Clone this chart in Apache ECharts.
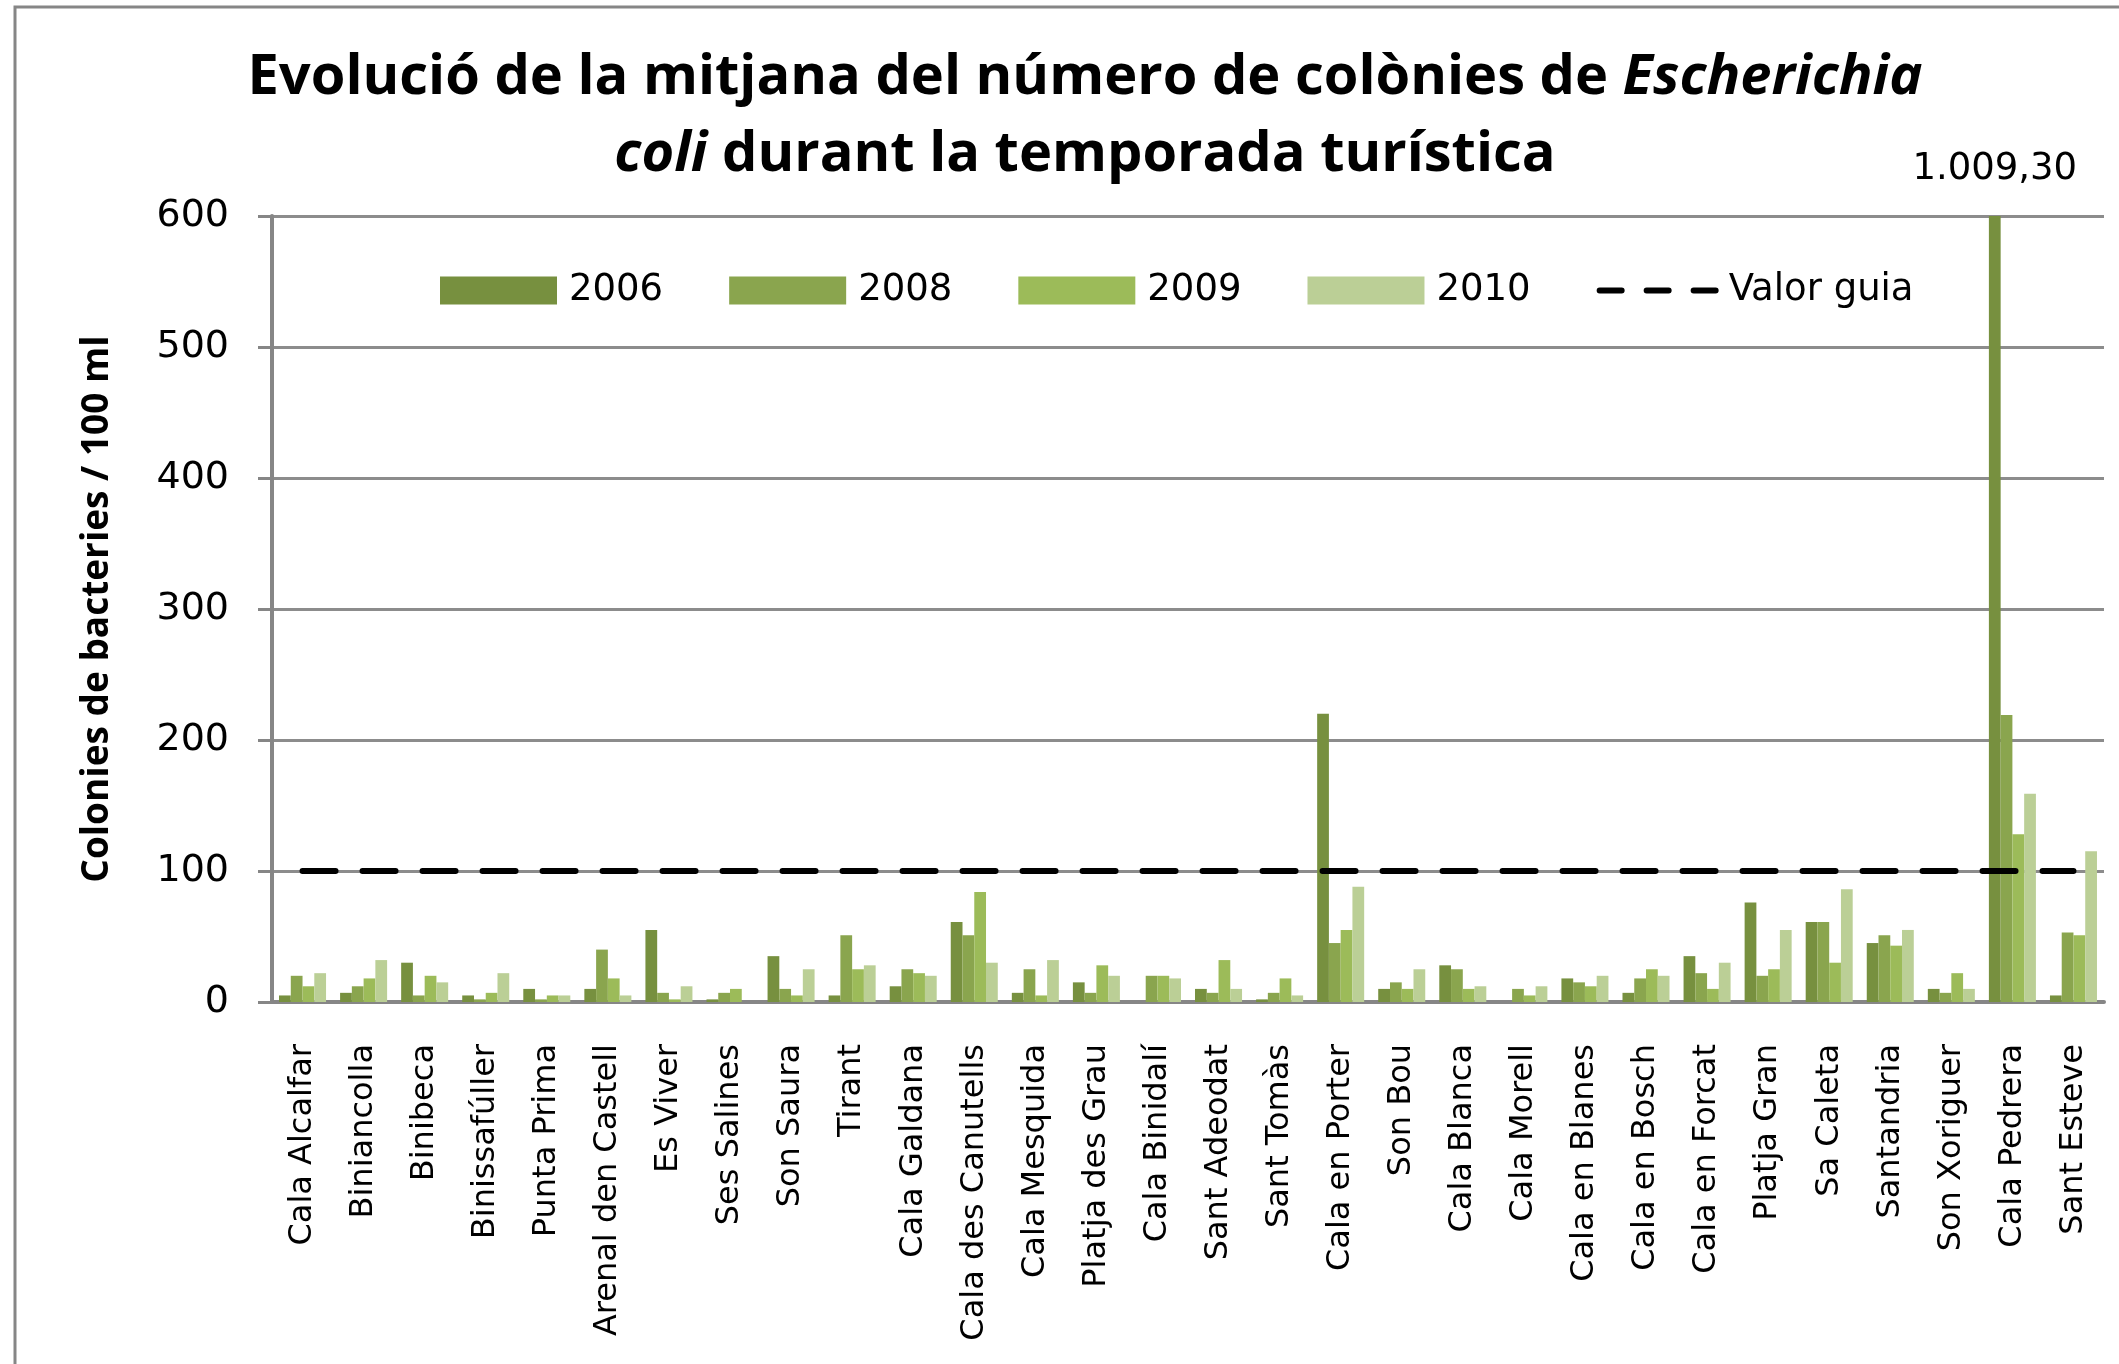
<!DOCTYPE html>
<html><head><meta charset="utf-8">
<script src="https://cdn.jsdelivr.net/npm/echarts@6/dist/echarts.min.js"></script>
<style>html,body{margin:0;padding:0;background:#fff}#c{width:2119px;height:1364px}</style>
</head><body><div id="c"></div>
<script>
const categories = ['Cala Alcalfar','Biniancolla','Binibeca','Binissafúller','Punta Prima','Arenal den Castell','Es Viver','Ses Salines','Son Saura','Tirant','Cala Galdana','Cala des Canutells','Cala Mesquida','Platja des Grau','Cala Binidalí','Sant Adeodat','Sant Tomàs','Cala en Porter','Son Bou','Cala Blanca','Cala Morell','Cala en Blanes','Cala en Bosch','Cala en Forcat','Platja Gran','Sa Caleta','Santandria','Son Xoriguer','Cala Pedrera','Sant Esteve'];
const s2006 = [5,7,30,5,10,10,55,2,35,5,12,61,7,15,0,10,2,220,10,28,0,18,7,35,76,61,45,10,1009.3,5];
const s2008 = [20,12,5,2,2,40,7,7,10,51,25,51,25,7,20,7,7,45,15,25,10,15,18,22,20,61,51,7,219,53];
const s2009 = [12,18,20,7,5,18,2,10,5,25,22,84,5,28,20,32,18,55,10,10,5,12,25,10,25,30,43,22,128,51];
const s2010 = [22,32,15,22,5,5,12,0,25,28,20,30,32,20,18,10,5,88,25,12,12,20,20,30,55,86,55,10,159,115];
const guideValue = 100;
const seriesNames = ['2006','2008','2009','2010'];
const guideName = 'Valor guia';
const colors = ['#77903F','#8AA54E','#9CBB59','#BBCF96'];
const yTicks = [0,100,200,300,400,500,600];

const chart = echarts.init(document.getElementById('c'), null, {renderer:'canvas'});
const FONT = 'DejaVu Sans';
const BOLD = 'Open Sans';
const allSeries = [s2006, s2008, s2009, s2010];
const barSeries = allSeries.map((arr, si) => ({
  name: seriesNames[si], type: 'bar', barGap: '0%', barCategoryGap: '23%',
  itemStyle: {color: colors[si]},
  data: arr.map(v => v > yTicks[yTicks.length-1] ? {
    value: v,
    label: {show: true, position: 'top', distance: 28,
      formatter: () => v.toLocaleString('de-DE', {minimumFractionDigits: 2, maximumFractionDigits: 2}),
      fontFamily: FONT, fontSize: 37, color: '#000'}
  } : v)
}));
const option = {
  backgroundColor: '#fff',
  animation: false,
  title: {
    text: 'Evolució de la mitjana del número de colònies de {i|Escherichia}\n{i|coli} durant la temporada turística',
    left: 1080, top: 35, textAlign: 'center',
    textStyle: {fontFamily: BOLD, fontWeight: 'bold', fontSize: 56, lineHeight: 77, color: '#000',
      rich: {i: {fontFamily: BOLD, fontWeight: 'bold', fontStyle: 'italic', fontSize: 56, lineHeight: 77, color: '#000'}}}
  },
  legend: {
    left: 435, top: 267, itemWidth: 117, itemHeight: 28, itemGap: 66,
    textStyle: {fontFamily: FONT, fontSize: 37, color: '#000', padding: [0,0,0,7]},
    data: [
      ...seriesNames.map(n => ({name: n, icon: 'rect'})),
      {name: guideName, itemStyle: {color: 'rgba(0,0,0,0)', borderWidth: 0},
       lineStyle: {color: '#000', width: 6, type: [22, 25], cap: 'round'}}
    ]
  },
  grid: {left: 272, right: 15, top: 216, bottom: 362, containLabel: false},
  xAxis: {
    type: 'category', data: categories,
    axisLine: {lineStyle: {color: '#868686', width: 4}},
    axisTick: {show: false},
    axisLabel: {rotate: 90, margin: 42, interval: 0, fontFamily: FONT, fontSize: 32, color: '#000'}
  },
  yAxis: {
    type: 'value', min: yTicks[0], max: yTicks[yTicks.length-1], interval: 100,
    name: 'Colonies de bacteries / 100 ml', nameLocation: 'middle', nameRotate: 90, nameGap: 156,
    nameTextStyle: {fontFamily: BOLD, fontWeight: 'bold', fontSize: 37, color: '#000'},
    axisLine: {show: true, lineStyle: {color: '#868686', width: 4}},
    axisTick: {show: true, inside: false, length: 14, lineStyle: {color: '#868686', width: 3}},
    splitLine: {lineStyle: {color: '#8c8c8c', width: 3}},
    axisLabel: {margin: 43, fontFamily: FONT, fontSize: 38, color: '#000'}
  },
  graphic: [{type: 'rect', shape: {x: 15, y: 7, width: 3000, height: 3000},
    style: {fill: 'none', stroke: '#868686', lineWidth: 3}, silent: true}],
  series: [...barSeries, {
    name: guideName, type: 'line', symbol: 'none', z: 5,
    data: categories.map(() => guideValue),
    itemStyle: {color: '#000'},
    lineStyle: {color: '#000', width: 6, type: [33, 27], cap: 'round'}
  }]
};
chart.setOption(option);
</script></body></html>
